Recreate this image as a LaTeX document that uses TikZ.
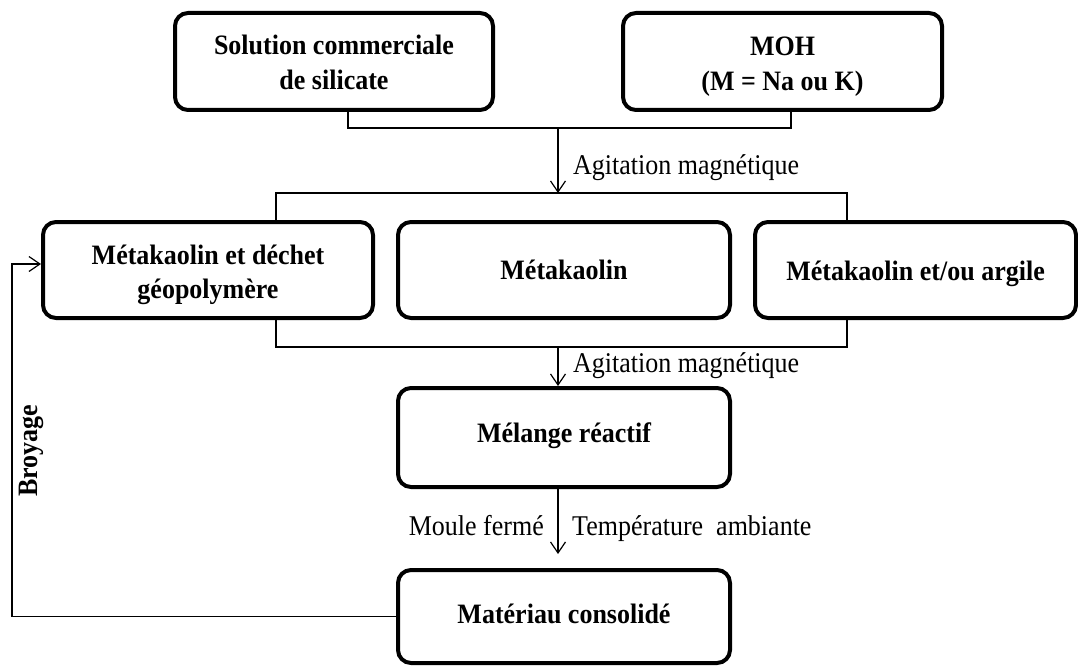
\documentclass[tikz,border=0pt]{standalone}
\usepackage{fontspec}
\usepackage{graphicx}
\setmainfont{Liberation Serif}
\usetikzlibrary{arrows.meta}
\newcommand{\bxt}[2]{\raisebox{#1}[0pt][0pt]{\scalebox{1}[1.08]{\begin{tabular}[t]{@{}c@{}}#2\end{tabular}}}}
\newcommand{\lbt}[1]{\scalebox{1}[1.1]{#1}}
\begin{document}
\begin{tikzpicture}[x=1pt,y=-1pt,
  box/.style={draw, line width=4pt, rounded corners=13pt,
    font=\fontsize{26}{32}\selectfont\bfseries, inner sep=0pt},
  conn/.style={line width=1.2pt},
  arr/.style={conn, -{Straight Barb[length=11pt,width=15pt,line width=1.2pt]}},
  lbl/.style={font=\fontsize{26}{30}\selectfont, inner sep=0pt}]
\useasboundingbox (0,0) rectangle (1078,666);
\fill[white] (0,0) rectangle (1078,666);

\node[box, minimum width=318pt, minimum height=97pt] (sol) at (334,61.5) {\bxt{6.5pt}{Solution commerciale\\de silicate}};
\node[box, minimum width=319pt, minimum height=97pt] (moh) at (782.5,61.5) {\bxt{5.5pt}{MOH\\(M = Na ou K)}};
\node[box, minimum width=330pt, minimum height=96pt] (mkd) at (208,270) {\bxt{6pt}{Métakaolin et déchet\\géopolymère}};
\node[box, minimum width=332pt, minimum height=96pt] (mk) at (564,270) {\bxt{-9pt}{Métakaolin}};
\node[box, minimum width=321pt, minimum height=96pt] (mka) at (915.5,270) {\bxt{-10pt}{Métakaolin et/ou argile}};
\node[box, minimum width=332pt, minimum height=99pt] (mel) at (564,437.5) {\bxt{-4.5pt}{Mélange réactif}};
\node[box, minimum width=332pt, minimum height=93pt] (mat) at (564,616.5) {\bxt{-6.5pt}{Matériau consolidé}};

\coordinate (j1) at (558,128);
\coordinate (j2) at (558,193);
\coordinate (j3) at (558,347);
\coordinate (loop) at (12,440);

\draw[conn] ([xshift=14pt]sol.south) |- (j1) -| ([xshift=8.5pt]moh.south);
\draw[arr] (j1) -- (j2);
\draw[conn] ([xshift=68pt]mkd.north) |- (j2) -| ([xshift=-68.5pt]mka.north);
\draw[conn] ([xshift=68pt]mkd.south) |- (j3) -| ([xshift=-68.5pt]mka.south);
\draw[arr] (j3) -- (j3 |- mel.north);
\draw[arr, shorten >=14pt] (mel.south -| j3) -- (mat.north -| j3);
\draw[arr] (mat.west) -| (loop) |- ([yshift=6pt]mkd.west);

\node[lbl, anchor=base west] (l1) at (573,174) {\lbt{Agitation magnétique}};
\node[lbl, anchor=base west] (l2) at (573,372) {\lbt{Agitation magnétique}};
\node[lbl, anchor=base east] (l3) at (544,535) {\lbt{Moule fermé}};
\node[lbl, anchor=base west] (l4) at (572,535) {\lbt{Température\ \ ambiante}};
\node[lbl, font=\fontsize{26}{30}\selectfont\bfseries, rotate=90, anchor=base] (l5) at (37,451) {\scalebox{1}[1.08]{Broyage}};
\end{tikzpicture}
\end{document}
